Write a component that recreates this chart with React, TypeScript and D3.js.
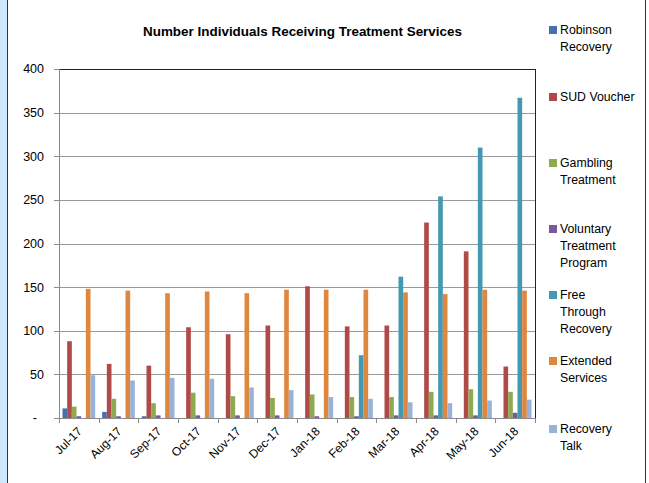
import * as d3 from 'd3';

const months = ['Jul-17', 'Aug-17', 'Sep-17', 'Oct-17', 'Nov-17', 'Dec-17', 'Jan-18', 'Feb-18', 'Mar-18', 'Apr-18', 'May-18', 'Jun-18'];

const seriesNames = ['Robinson Recovery', 'SUD Voucher', 'Gambling Treatment', 'Voluntary Treatment Program', 'Free Through Recovery', 'Extended Services', 'Recovery Talk'];

const robinson = [11, 7, 2, 0, 0, 0, 0, 0, 0, 0, 0, 0];
const sudVoucher = [88, 62, 60, 104, 96, 106, 151, 105, 106, 224, 191, 59];
const gambling = [13, 22, 17, 29, 25, 23, 27, 24, 24, 30, 33, 30];
const voluntary = [2, 2, 3, 3, 3, 3, 2, 2, 3, 3, 3, 6];
const freeThrough = [0, 0, 0, 0, 0, 0, 0, 72, 162, 254, 310, 367];
const extended = [148, 146, 143, 145, 143, 147, 147, 147, 144, 142, 147, 146];
const recoveryTalk = [49, 43, 46, 45, 35, 32, 24, 22, 18, 17, 20, 21];

const yTicks = [0, 50, 100, 150, 200, 250, 300, 350, 400];

const values = [robinson, sudVoucher, gambling, voluntary, freeThrough, extended, recoveryTalk];
const colors = ['#4672AC', '#B04A48', '#8EAA50', '#7659A0', '#4499B2', '#E0873F', '#98B2D9'];
// legend lines wrap as in the original
const legendLines = [['Robinson', 'Recovery'], ['SUD Voucher'], ['Gambling', 'Treatment'], ['Voluntary', 'Treatment', 'Program'], ['Free', 'Through', 'Recovery'], ['Extended', 'Services'], ['Recovery', 'Talk']];
const legendY = [30, 97, 163, 229, 295, 361, 429];

const font = '"Liberation Sans", Arial, sans-serif';

export default function App() {
  const width = 649;
  const height = 483;
  const plot = { left: 59, right: 535, top: 69, bottom: 418 };

  const x = d3.scaleBand<string>().domain(months).range([plot.left, plot.right]).padding(0);
  const cw = x.bandwidth();
  const gap = cw * 0.176;
  const xs = d3
    .scaleBand<number>()
    .domain(d3.range(seriesNames.length))
    .range([gap / 2, cw - gap / 2])
    .padding(0);
  const y = d3.scaleLinear().domain([0, 400]).range([plot.bottom, plot.top]);

  return (
    <svg width={width} height={height} style={{ position: 'absolute', left: 0, top: 0, background: '#fff' }} fontFamily={font}>
      {/* outer frame */}
      <rect x={0} y={0} width={7} height={height} fill="#CDE8FB" />
      <line x1={7.5} x2={7.5} y1={0} y2={height} stroke="#333" strokeWidth={1} />
      <line x1={645.5} x2={645.5} y1={0} y2={height} stroke="#333" strokeWidth={1} />

      <text x={302.5} y={36} textAnchor="middle" fontSize={13} fontWeight="bold" fill="#000" textLength={319} lengthAdjust="spacingAndGlyphs">
        Number Individuals Receiving Treatment Services
      </text>

      {/* grid + y axis */}
      {yTicks.map((t) => (
        <g key={t}>
          {t > 0 && t < 400 && (
            <line x1={plot.left} x2={plot.right} y1={Math.round(y(t)) + 0.5} y2={Math.round(y(t)) + 0.5} stroke="#9a9a9a" />
          )}
          <line x1={plot.left - 5} x2={plot.left} y1={Math.round(y(t)) + 0.5} y2={Math.round(y(t)) + 0.5} stroke="#8a8a8a" />
          <text x={t === 0 ? 37 : 44} y={y(t)} dy="0.35em" textAnchor="end" fontSize={12.5} fill="#000">
            {t === 0 ? '-' : t}
          </text>
        </g>
      ))}

      {/* bars */}
      {months.map((m, i) => (
        <g key={m} transform={`translate(${x(m)},0)`}>
          {values.map((s, k) =>
            s[i] > 0 ? (
              <rect key={k} x={xs(k)} y={y(s[i])} width={xs.bandwidth()} height={y(0) - y(s[i])} fill={colors[k]} />
            ) : null
          )}
        </g>
      ))}

      {/* plot border */}
      <line x1={plot.left} x2={plot.right} y1={plot.top + 0.5} y2={plot.top + 0.5} stroke="#222" />
      <line x1={plot.right + 0.5} x2={plot.right + 0.5} y1={plot.top} y2={plot.bottom} stroke="#222" />
      <line x1={plot.left + 0.5} x2={plot.left + 0.5} y1={plot.top} y2={plot.bottom} stroke="#8a8a8a" />
      <line x1={plot.left} x2={plot.right} y1={plot.bottom + 0.5} y2={plot.bottom + 0.5} stroke="#8a8a8a" />

      {/* x ticks + labels */}
      {months.map((m, i) => (
        <g key={m}>
          <line x1={Math.round(x(m)!) + 0.5} x2={Math.round(x(m)!) + 0.5} y1={plot.bottom} y2={plot.bottom + 5} stroke="#8a8a8a" />
          {i === months.length - 1 && (
            <line x1={plot.right + 0.5} x2={plot.right + 0.5} y1={plot.bottom} y2={plot.bottom + 5} stroke="#8a8a8a" />
          )}
          <text
            transform={`translate(${x(m)! + cw / 2 + 1},${plot.bottom + 11}) rotate(-45)`}
            textAnchor="end"
            dy="0.35em"
            fontSize={12}
            fill="#000"
          >
            {m}
          </text>
        </g>
      ))}

      {/* legend */}
      {seriesNames.map((name, k) => (
        <g key={name}>
          <rect x={549} y={legendY[k] - 4} width={8} height={8} fill={colors[k]} />
          <text x={560} y={legendY[k]} fontSize={12.3} fill="#000">
            {legendLines[k].map((ln, j) => (
              <tspan key={j} x={560} y={legendY[k] + j * 17} dy="0.35em">
                {ln}
              </tspan>
            ))}
          </text>
        </g>
      ))}
    </svg>
  );
}
